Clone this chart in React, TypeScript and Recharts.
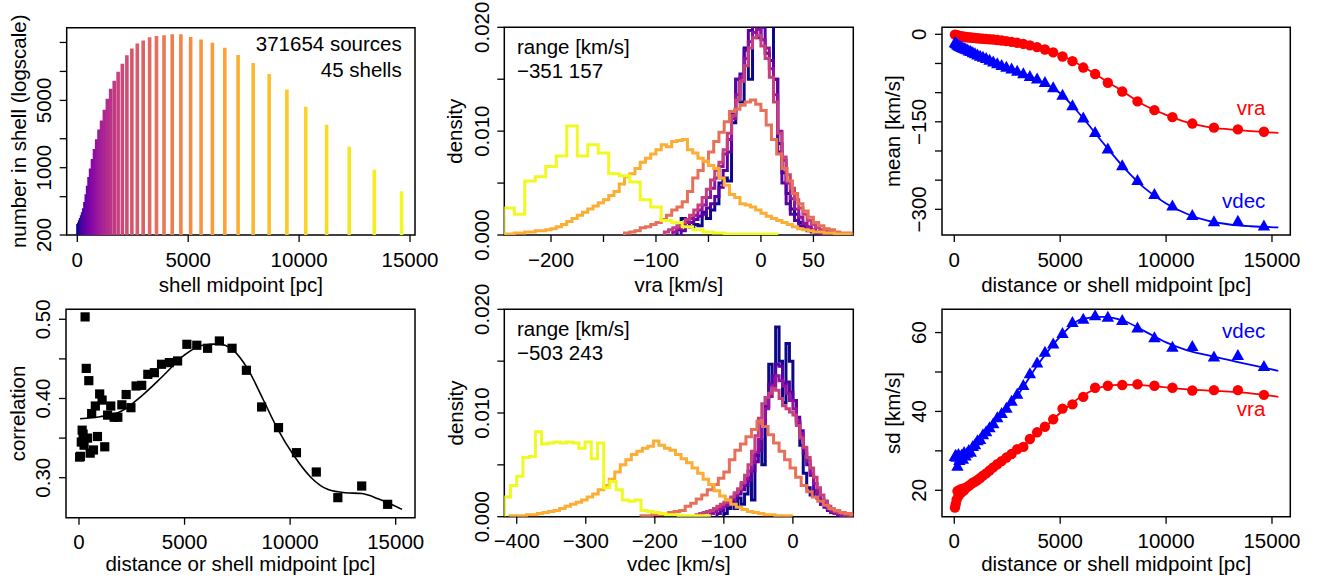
import React from 'react';
import { ComposedChart, Line, Scatter, XAxis, YAxis, ReferenceArea } from 'recharts';

const FONT = '"Liberation Sans", Arial, Helvetica, sans-serif';
const FS = 20.5;
const PW = 441;
const PH = 291;

// ---- shells (45) ----
const SHELL_MID = [30, 70, 110, 150, 195, 240, 290, 345, 405, 465, 530, 600, 685, 775, 875, 980, 1095, 1220, 1355, 1505,
  1665, 1840, 2030, 2235, 2460, 2705, 2970, 3260, 3570, 3910, 4280, 4670, 5110, 5580, 6090, 6650, 7250, 7930, 8650, 9450,
  10300, 11240, 12260, 13390, 14620];
const SHELL_N = [260, 270, 285, 300, 320, 345, 380, 440, 530, 650, 800, 980, 1230, 1560, 1980, 2500, 3100, 4000, 5200, 6600,
  8000, 9900, 12000, 14700, 17300, 19500, 21000, 22700, 23300, 23700, 24400, 24300, 22800, 21500, 19900, 17600, 14800, 12200, 9400, 6500,
  4300, 2800, 1650, 950, 570];
const MEAN_VRA = [-0.5, -1, -1.5, -2, -2.5, -3, -3.3, -3.6, -4, -4.3, -4.6, -5, -5.3, -5.6, -6, -6.4, -6.8, -7.2, -7.6, -8,
  -8.5, -9, -9.7, -10.6, -11.7, -13, -14.6, -16.5, -19, -22, -26, -31, -38, -46, -57, -68, -83, -98, -115, -130,
  -142, -153, -160, -163, -167];
const MEAN_VDEC = [-15, -16, -17, -19, -20, -21, -22, -23, -24, -25, -26, -27, -29, -30, -32, -34, -36, -38, -40, -42,
  -45, -48, -51, -54, -57, -60, -64, -68, -73, -77, -83, -92, -105, -123, -144, -169, -197, -226, -251, -275,
  -295, -311, -322, -321, -329];
const SD_VRA = [15.6, 16.5, 17.6, 19.8, 18.5, 19.8, 20.2, 19.5, 20.4, 20.0, 20.6, 20.8, 21.1, 21.5, 21.9, 22.2, 22.6, 23.1, 23.7, 24.3,
  25.0, 25.8, 26.6, 27.4, 28.3, 29.2, 30.4, 31.0, 33.0, 34.7, 36.1, 38.0, 40.7, 41.8, 43.7, 46.0, 46.5, 46.7, 46.9, 46.5,
  46.0, 45.3, 45.4, 45.4, 44.2];
const SD_VDEC = [28.5, 28.8, 28.3, 26.0, 29.0, 27.5, 28.0, 28.8, 27.8, 29.5, 28.6, 29.3, 30.0, 29.6, 31.0, 31.5, 32.5, 32.8, 34.0, 34.8,
  35.8, 36.8, 38.3, 39.4, 40.7, 42.5, 44.3, 46.5, 49.5, 52.2, 54.9, 57.0, 59.7, 62.5, 63.3, 64.2, 63.8, 63.0, 61.1, 58.6,
  56.2, 56.4, 53.7, 54.1, 51.3];
const CORR = [0.326, 0.327, 0.345, 0.360, 0.355, 0.341, 0.503, 0.438, 0.350, 0.4225, 0.331, 0.381, 0.335, 0.3905, 0.352, 0.4057, 0.398, 0.339, 0.379, 0.3905,
  0.3763, 0.3763, 0.392, 0.405, 0.3884, 0.4158, 0.4166, 0.4305, 0.4326, 0.4432, 0.4453, 0.4474, 0.4684, 0.4672, 0.4634, 0.4726, 0.4634, 0.4356, 0.3893, 0.3632,
  0.3316, 0.3072, 0.2748, 0.2895, 0.2664];

// ---- smooth fits ----
const FIT_X = [50, 1000, 2000, 3000, 4000, 5000, 6000, 7000, 8000, 9000, 10000, 11000, 12000, 13000, 14000, 15300];
const FIT_MEAN_VRA = [-0.5, -6, -9.5, -15, -22, -35, -54, -76, -99, -122, -138, -151, -159, -163, -166, -169];
const FIT_MEAN_VDEC = [-15, -34, -50, -64, -79, -101, -140, -185, -228, -264, -290, -308, -320, -326, -329, -331];
const FIT_SD_VRA = [17.5, 22.1, 26.4, 30.3, 34.6, 39.6, 43.8, 46.2, 46.8, 46.6, 46.1, 45.6, 45.3, 45.0, 44.6, 43.7];
const FIT_SD_VDEC = [28.4, 31.4, 37.8, 44.2, 52.3, 59.0, 63.4, 64.0, 63.0, 60.3, 57.5, 55.5, 54.2, 53.0, 51.8, 50.3];
const FIT_CORR_X = [50, 1000, 2000, 3000, 4000, 5000, 5800, 6600, 7300, 8000, 8700, 9400, 10200, 11000, 11800, 12600, 13400, 14200, 15300];
const FIT_CORR = [0.3745, 0.377, 0.384, 0.404, 0.429, 0.455, 0.467, 0.469, 0.461, 0.437, 0.400, 0.362, 0.327, 0.300, 0.285, 0.281, 0.280, 0.273, 0.260];

// ---- histograms of selected shells ----
const HIST_SHELLS = [0, 7, 14, 21, 28, 36, 44];
const VRA_START = [-80, -76, -84, -92, -130, -245, -245];
const VRA_WIDTH = [4, 4, 4, 4, 5, 5, 10];
const VRA_H0 = [0.0005, 0.0016, 0.0012, 0.0008, 0.0010, 0.0009, 0.0022, 0.0016, 0.0024, 0.0030, 0.0050, 0.0055, 0.0052, 0.0108, 0.0150, 0.0128, 0.0180, 0.0150, 0.0210, 0.0225,
  0.0205, 0.0230, 0.0215, 0.0150, 0.0088, 0.0060, 0.0040, 0.0025, 0.0020, 0.0012, 0.0008, 0.0005, 0.0004, 0.0002, 0.0001];
const VRA_H7 = [0.0004, 0.0008, 0.0012, 0.0015, 0.0018, 0.0020, 0.0026, 0.0030, 0.0037, 0.0046, 0.0062, 0.0080, 0.0118, 0.0150, 0.0155, 0.0178, 0.0197, 0.0205, 0.0190, 0.0200,
  0.0175, 0.0168, 0.0150, 0.0080, 0.0050, 0.0030, 0.0020, 0.0014, 0.0009, 0.0006, 0.0004, 0.0003, 0.0002, 0.0001];
const VRA_H14 = [0.0003, 0.0006, 0.0009, 0.0012, 0.0016, 0.0019, 0.0024, 0.0029, 0.0036, 0.0045, 0.0055, 0.0066, 0.0078, 0.0092, 0.0112, 0.0135, 0.0152, 0.0170, 0.0186, 0.0195,
  0.0198, 0.0188, 0.0180, 0.0160, 0.0135, 0.0100, 0.0072, 0.0050, 0.0035, 0.0025, 0.0017, 0.0011, 0.0008, 0.0005, 0.0003, 0.0002, 0.0001];
const VRA_H21 = [0.0003, 0.0005, 0.0007, 0.0009, 0.0012, 0.0015, 0.0019, 0.0024, 0.0029, 0.0036, 0.0044, 0.0053, 0.0062, 0.0070, 0.0082, 0.0098, 0.0115, 0.0130, 0.0148, 0.0163,
  0.0180, 0.0190, 0.0192, 0.0182, 0.0170, 0.0152, 0.0128, 0.0098, 0.0075, 0.0058, 0.0045, 0.0034, 0.0026, 0.0020, 0.0014, 0.0010, 0.0007, 0.0005, 0.0004, 0.0003,
  0.0002, 0.0001];
const VRA_H28 = [0.0002, 0.0003, 0.0004, 0.0007, 0.0008, 0.0010, 0.0012, 0.0015, 0.0019, 0.0024, 0.0027, 0.0032, 0.0042, 0.0055, 0.0062, 0.0071, 0.0080, 0.0090, 0.0099, 0.0109,
  0.0119, 0.0121, 0.0125, 0.0128, 0.0130, 0.0126, 0.0120, 0.0106, 0.0092, 0.0078, 0.0064, 0.0052, 0.0040, 0.0030, 0.0023, 0.0017, 0.0012, 0.0009, 0.0006, 0.0005,
  0.0003, 0.0002, 0.0002, 0.0001];
const VRA_H36 = [0.0001, 0.0001, 0.0002, 0.0002, 0.0003, 0.0003, 0.0004, 0.0004, 0.0005, 0.0006, 0.0008, 0.0010, 0.0013, 0.0016, 0.0019, 0.0022, 0.0025, 0.0028, 0.0031, 0.0034,
  0.0038, 0.0042, 0.0049, 0.0056, 0.0059, 0.0064, 0.0070, 0.0074, 0.0078, 0.0082, 0.0087, 0.0085, 0.0090, 0.0091, 0.0092, 0.0082, 0.0079, 0.0074, 0.0071, 0.0067,
  0.0064, 0.0055, 0.0048, 0.0039, 0.0036, 0.0030, 0.0029, 0.0027, 0.0024, 0.0021, 0.0018, 0.0016, 0.0014, 0.0012, 0.0010, 0.0008, 0.0006, 0.0005, 0.0004, 0.0003,
  0.0003, 0.0002, 0.0002, 0.0001, 0.0001, 0.0001];
const VRA_H44 = [0.0026, 0.0020, 0.0052, 0.0056, 0.0066, 0.0076, 0.0105, 0.0076, 0.0087, 0.0079, 0.0059, 0.0057, 0.0051, 0.0034, 0.0027, 0.0014, 0.0012, 0.0008, 0.0005, 0.0003,
  0.0002, 0.0001, 0.0001, 0.0001, 0.0001, 0.0001];
const VRA_HISTS = [VRA_H0, VRA_H7, VRA_H14, VRA_H21, VRA_H28, VRA_H36, VRA_H44];

const VDEC_START = [-100, -110, -120, -140, -220, -410, -418];
const VDEC_WIDTH = [5, 5, 5, 5, 8, 8, 9];
const VDEC_H0 = [0.0003, 0.0008, 0.0014, 0.0008, 0.0018, 0.0012, 0.0022, 0.0038, 0.0016, 0.0059, 0.0074, 0.0050, 0.0115, 0.0147, 0.0125, 0.0183, 0.0150, 0.0110, 0.0167, 0.0150,
  0.0112, 0.0090, 0.0069, 0.0042, 0.0028, 0.0021, 0.0025, 0.0018, 0.0012, 0.0015, 0.0007, 0.0004, 0.0003, 0.0002, 0.0001];
const VDEC_H7 = [0.0003, 0.0006, 0.0010, 0.0011, 0.0014, 0.0018, 0.0022, 0.0026, 0.0030, 0.0035, 0.0044, 0.0053, 0.0064, 0.0087, 0.0106, 0.0128, 0.0136, 0.0147, 0.0145, 0.0128,
  0.0130, 0.0120, 0.0112, 0.0096, 0.0083, 0.0061, 0.0050, 0.0040, 0.0025, 0.0018, 0.0012, 0.0009, 0.0006, 0.0004, 0.0003, 0.0002, 0.0001];
const VDEC_H14 = [0.0003, 0.0005, 0.0007, 0.0009, 0.0011, 0.0014, 0.0017, 0.0021, 0.0026, 0.0031, 0.0036, 0.0044, 0.0052, 0.0062, 0.0075, 0.0090, 0.0104, 0.0116, 0.0127, 0.0136,
  0.0131, 0.0126, 0.0119, 0.0112, 0.0104, 0.0092, 0.0080, 0.0066, 0.0054, 0.0042, 0.0032, 0.0023, 0.0016, 0.0011, 0.0008, 0.0005, 0.0003, 0.0002, 0.0001];
const VDEC_H21 = [0.0002, 0.0003, 0.0004, 0.0005, 0.0006, 0.0008, 0.0010, 0.0012, 0.0014, 0.0016, 0.0019, 0.0023, 0.0027, 0.0033, 0.0040, 0.0050, 0.0063, 0.0078, 0.0095, 0.0109,
  0.0115, 0.0119, 0.0124, 0.0122, 0.0114, 0.0107, 0.0104, 0.0101, 0.0098, 0.0088, 0.0076, 0.0067, 0.0057, 0.0047, 0.0038, 0.0028, 0.0021, 0.0015, 0.0010, 0.0007,
  0.0005, 0.0004, 0.0003, 0.0002, 0.0001];
const VDEC_H28 = [0.0001, 0.0001, 0.0002, 0.0002, 0.0003, 0.0004, 0.0005, 0.0006, 0.0010, 0.0013, 0.0017, 0.0021, 0.0026, 0.0031, 0.0037, 0.0043, 0.0055, 0.0064, 0.0070, 0.0077,
  0.0084, 0.0092, 0.0087, 0.0079, 0.0071, 0.0063, 0.0055, 0.0047, 0.0038, 0.0030, 0.0024, 0.0019, 0.0015, 0.0011, 0.0008, 0.0006, 0.0004, 0.0003, 0.0002];
const VDEC_H36 = [0.0001, 0.0001, 0.0001, 0.0002, 0.0002, 0.0003, 0.0004, 0.0005, 0.0006, 0.0008, 0.0010, 0.0012, 0.0014, 0.0016, 0.0019, 0.0022, 0.0026, 0.0030, 0.0036, 0.0043,
  0.0050, 0.0055, 0.0060, 0.0063, 0.0066, 0.0068, 0.0073, 0.0069, 0.0066, 0.0064, 0.0060, 0.0056, 0.0052, 0.0047, 0.0042, 0.0036, 0.0031, 0.0025, 0.0020, 0.0016,
  0.0012, 0.0009, 0.0007, 0.0005, 0.0004, 0.0003, 0.0002, 0.0002, 0.0001, 0.0001, 0.0001];
const VDEC_H44 = [0.0019, 0.0030, 0.0039, 0.0057, 0.0058, 0.0082, 0.0070, 0.0071, 0.0072, 0.0071, 0.0072, 0.0071, 0.0066, 0.0072, 0.0056, 0.0071, 0.0028, 0.0034, 0.0026, 0.0016,
  0.0015, 0.0016, 0.0006, 0.0005, 0.0004, 0.0003, 0.0002, 0.0002, 0.0001, 0.0001, 0.0001, 0.0001, 0.0001];
const VDEC_HISTS = [VDEC_H0, VDEC_H7, VDEC_H14, VDEC_H21, VDEC_H28, VDEC_H36, VDEC_H44];

// ---- ticks ----
const DIST_TICKS = [0, 5000, 10000, 15000];
const N_TICKS = [200, 500, 1000, 2000, 5000, 10000, 20000];
const N_LABELED = [200, 1000, 5000];
const VRA_TICKS = [-200, -150, -100, -50, 0, 50];
const VRA_LABELED = [-200, -100, 0, 50];
const VDEC_TICKS = [-400, -300, -200, -100, 0];
const DENS_TICKS = [0, 0.005, 0.01, 0.015, 0.02];
const DENS_LABELED = [0, 0.01, 0.02];
const MEAN_TICKS = [-300, -250, -200, -150, -100, -50, 0];
const MEAN_LABELED = [-300, -150, 0];
const CORR_TICKS = [0.3, 0.35, 0.4, 0.45, 0.5];
const CORR_LABELED = [0.3, 0.4, 0.5];
const SD_TICKS = [20, 30, 40, 50, 60];
const SD_LABELED = [20, 40, 60];

const PLASMA = ['#0d0887', '#41049d', '#6a00a8', '#8f0da4', '#b12a90', '#cc4778', '#e16462', '#f2844b', '#fca636', '#fcce25', '#f0f921'];
function plasma(t: number): string {
  const s = Math.max(0, Math.min(1, t)) * (PLASMA.length - 1);
  const i = Math.min(Math.floor(s), PLASMA.length - 2);
  const f = s - i;
  const a = PLASMA[i], b = PLASMA[i + 1];
  const c = [1, 3, 5].map(k => Math.round(parseInt(a.slice(k, k + 2), 16) * (1 - f) + parseInt(b.slice(k, k + 2), 16) * f));
  return `rgb(${c.join(',')})`;
}

const minus = (s: string) => s.replace('-', '\u2212');
const labeler = (only: number[] | null, fmt: (v: number) => string) => (v: number) =>
  !only || only.some(l => Math.abs(l - v) < 1e-9) ? minus(fmt(v)) : '';

const pairs = (xs: number[], ys: number[]) => xs.map((x, i) => ({ x, y: ys[i] }));
function steps(start: number, width: number, d: number[]) {
  const pts = [{ x: start, y: 0 }];
  d.forEach((v, i) => pts.push({ x: start + i * width, y: v }));
  pts.push({ x: start + d.length * width, y: 0 });
  return pts;
}

function xTick(lab: (v: number) => string) {
  return (p: any) => {
    const s = lab(p.payload.value);
    if (!s) return <g />;
    return <text x={p.x} y={p.y} textAnchor="middle" fontFamily={FONT} fontSize={FS} fill="#000">{s}</text>;
  };
}
function yTick(lab: (v: number) => string) {
  return (p: any) => {
    const s = lab(p.payload.value);
    if (!s) return <g />;
    return (
      <text x={p.x} y={p.y} transform={`rotate(-90 ${p.x} ${p.y})`} textAnchor="middle"
        fontFamily={FONT} fontSize={FS} fill="#000">{s}</text>
    );
  };
}

type Frame = {
  left: number; top: number; right: number; bottom: number;
  xDomain: [number, number]; yDomain: [number, number];
  xTicks: number[]; yTicks: number[];
  xLab: (v: number) => string; yLab: (v: number) => string;
  yLog?: boolean;
};

const TICK_LINE = { stroke: '#000', strokeWidth: 1.3 };

function axes(f: Frame) {
  return [
    <XAxis key="xa" dataKey="x" type="number" domain={f.xDomain} allowDataOverflow ticks={f.xTicks} interval={0}
      height={PH - f.bottom} tickSize={7} tickMargin={24.5} axisLine={false} tickLine={TICK_LINE} tick={xTick(f.xLab)} />,
    <YAxis key="ya" dataKey="y" type="number" scale={f.yLog ? 'log' : 'linear'} domain={f.yDomain} allowDataOverflow
      ticks={f.yTicks} interval={0} width={f.left} tickSize={7} tickMargin={8.5} axisLine={false} tickLine={TICK_LINE}
      tick={yTick(f.yLab)} />,
    <ReferenceArea key="box" x1={f.xDomain[0]} x2={f.xDomain[1]} y1={f.yDomain[0]} y2={f.yDomain[1]}
      fill="none" stroke="#000" strokeWidth={1.5} ifOverflow="visible" />,
  ];
}

function Panel({ f, col, row, children }: { f: Frame; col: number; row: number; children: React.ReactNode }) {
  return (
    <div style={{ position: 'absolute', left: col * PW, top: row * PH, width: PW, height: PH }}>
      <ComposedChart width={PW} height={PH} margin={{ top: f.top, right: PW - f.right, bottom: 0, left: 0 }}>
        {axes(f)}
        {children}
      </ComposedChart>
    </div>
  );
}

const F1: Frame = { left: 66.7, top: 27.7, right: 415, bottom: 235, xDomain: [-478, 15225], yDomain: [200, 28460],
  xTicks: DIST_TICKS, yTicks: N_TICKS, xLab: labeler(null, String), yLab: labeler(N_LABELED, String), yLog: true };
const F2: Frame = { left: 63.3, top: 27.3, right: 412.3, bottom: 235, xDomain: [-244.5, 88], yDomain: [0, 0.02],
  xTicks: VRA_TICKS, yTicks: DENS_TICKS, xLab: labeler(VRA_LABELED, String), yLab: labeler(DENS_LABELED, v => v.toFixed(3)) };
const F3: Frame = { left: 60, top: 27.3, right: 408.3, bottom: 235, xDomain: [-580, 15865], yDomain: [-344, 12],
  xTicks: DIST_TICKS, yTicks: MEAN_TICKS, xLab: labeler(null, String), yLab: labeler(MEAN_LABELED, String) };
const F4: Frame = { left: 66, top: 18.3, right: 415, bottom: 226.7, xDomain: [-615, 15915], yDomain: [0.2495, 0.5126],
  xTicks: DIST_TICKS, yTicks: CORR_TICKS, xLab: labeler(null, String), yLab: labeler(CORR_LABELED, v => v.toFixed(2)) };
const F5: Frame = { left: 63.3, top: 18.3, right: 412.3, bottom: 225.7, xDomain: [-418, 87.5], yDomain: [0, 0.02],
  xTicks: VDEC_TICKS, yTicks: DENS_TICKS, xLab: labeler(null, String), yLab: labeler(DENS_LABELED, v => v.toFixed(3)) };
const F6: Frame = { left: 60, top: 18.3, right: 408.3, bottom: 225.7, xDomain: [-580, 15865], yDomain: [13.3, 65.9],
  xTicks: DIST_TICKS, yTicks: SD_TICKS, xLab: labeler(null, String), yLab: labeler(SD_LABELED, String) };

const RED = '#ff0000';
const BLUE = '#0000ff';

const circle = (color: string) => (p: any) => <circle cx={p.cx} cy={p.cy} r={5.2} fill={color} />;
const triangle = (color: string) => (p: any) => (
  <path d={`M${p.cx},${p.cy - 6.8}L${p.cx + 6.2},${p.cy + 4.2}L${p.cx - 6.2},${p.cy + 4.2}Z`} fill={color} />
);
const square = (p: any) => <rect x={p.cx - 4.6} y={p.cy - 4.6} width={9.2} height={9.2} fill="#000" />;

function histLines(starts: number[], widths: number[], hists: number[][]) {
  return hists.map((d, k) => (
    <Line key={`h${k}`} data={steps(starts[k], widths[k], d)} dataKey="y" type="stepAfter"
      stroke={plasma(HIST_SHELLS[k] / 44)} strokeWidth={3} dot={false} isAnimationActive={false} />
  ));
}

export default function App() {
  const txt = { fontFamily: FONT, fontSize: FS, fill: '#000' } as const;
  return (
    <div style={{ position: 'absolute', left: 0, top: 0, width: 1324, height: 582, background: '#fff' }}>
      <style>{'.recharts-surface{overflow:visible}'}</style>
      <Panel f={F1} col={0} row={0}>
        {SHELL_MID.map((x, i) => (
          <Line key={`b${i}`} data={[{ x, y: F1.yDomain[0] }, { x, y: SHELL_N[i] }]} dataKey="y"
            stroke={plasma(i / 44)} strokeWidth={3.6} dot={false} isAnimationActive={false} />
        ))}
      </Panel>
      <Panel f={F2} col={1} row={0}>
        {histLines(VRA_START, VRA_WIDTH, VRA_HISTS)}
      </Panel>
      <Panel f={F3} col={2} row={0}>
        <Line data={pairs(FIT_X, FIT_MEAN_VRA)} dataKey="y" type="monotone" stroke={RED} strokeWidth={1.8} dot={false} isAnimationActive={false} />
        <Line data={pairs(FIT_X, FIT_MEAN_VDEC)} dataKey="y" type="monotone" stroke={BLUE} strokeWidth={1.8} dot={false} isAnimationActive={false} />
        <Scatter data={pairs(SHELL_MID, MEAN_VRA)} dataKey="y" shape={circle(RED)} isAnimationActive={false} />
        <Scatter data={pairs(SHELL_MID, MEAN_VDEC)} dataKey="y" shape={triangle(BLUE)} isAnimationActive={false} />
      </Panel>
      <Panel f={F4} col={0} row={1}>
        <Line data={pairs(FIT_CORR_X, FIT_CORR)} dataKey="y" type="monotone" stroke="#000" strokeWidth={1.6} dot={false} isAnimationActive={false} />
        <Scatter data={pairs(SHELL_MID, CORR)} dataKey="y" shape={square} isAnimationActive={false} />
      </Panel>
      <Panel f={F5} col={1} row={1}>
        {histLines(VDEC_START, VDEC_WIDTH, VDEC_HISTS)}
      </Panel>
      <Panel f={F6} col={2} row={1}>
        <Line data={pairs(FIT_X, FIT_SD_VRA)} dataKey="y" type="monotone" stroke={RED} strokeWidth={1.8} dot={false} isAnimationActive={false} />
        <Line data={pairs(FIT_X, FIT_SD_VDEC)} dataKey="y" type="monotone" stroke={BLUE} strokeWidth={1.8} dot={false} isAnimationActive={false} />
        <Scatter data={pairs(SHELL_MID, SD_VRA)} dataKey="y" shape={circle(RED)} isAnimationActive={false} />
        <Scatter data={pairs(SHELL_MID, SD_VDEC)} dataKey="y" shape={triangle(BLUE)} isAnimationActive={false} />
      </Panel>

      <svg width={1324} height={582} style={{ position: 'absolute', left: 0, top: 0, pointerEvents: 'none' }}>
        {/* axis titles */}
        <text {...txt} x={240.8} y={291.5} textAnchor="middle">shell midpoint [pc]</text>
        <text {...txt} x={678.8} y={291.5} textAnchor="middle">vra [km/s]</text>
        <text {...txt} x={1116.2} y={291.5} textAnchor="middle">distance or shell midpoint [pc]</text>
        <text {...txt} x={240.5} y={570.5} textAnchor="middle">distance or shell midpoint [pc]</text>
        <text {...txt} x={678.8} y={570.5} textAnchor="middle">vdec [km/s]</text>
        <text {...txt} x={1116.2} y={570.5} textAnchor="middle">distance or shell midpoint [pc]</text>
        <text {...txt} x={26} y={131.3} textAnchor="middle" transform="rotate(-90 26 131.3)">number in shell (logscale)</text>
        <text {...txt} x={462.5} y={131.2} textAnchor="middle" transform="rotate(-90 462.5 131.2)">density</text>
        <text {...txt} x={900} y={131.2} textAnchor="middle" transform="rotate(-90 900 131.2)">mean [km/s]</text>
        <text {...txt} x={25} y={413.5} textAnchor="middle" transform="rotate(-90 25 413.5)">correlation</text>
        <text {...txt} x={462.5} y={413} textAnchor="middle" transform="rotate(-90 462.5 413)">density</text>
        <text {...txt} x={900} y={413} textAnchor="middle" transform="rotate(-90 900 413)">sd [km/s]</text>
        {/* annotations */}
        <text {...txt} x={401.7} y={50.6} textAnchor="end">371654 sources</text>
        <text {...txt} x={401.7} y={76.6} textAnchor="end">45 shells</text>
        <text {...txt} x={517} y={54}>range [km/s]</text>
        <text {...txt} x={517} y={78.3}>{'\u2212351 157'}</text>
        <text {...txt} x={517} y={336.3}>range [km/s]</text>
        <text {...txt} x={517} y={360.3}>{'\u2212503 243'}</text>
        <text {...txt} x={1265.3} y={115} textAnchor="end" fill={RED}>vra</text>
        <text {...txt} x={1265.3} y={208.3} textAnchor="end" fill={BLUE}>vdec</text>
        <text {...txt} x={1265.3} y={338.3} textAnchor="end" fill={BLUE}>vdec</text>
        <text {...txt} x={1265.3} y={416} textAnchor="end" fill={RED}>vra</text>
      </svg>
    </div>
  );
}
